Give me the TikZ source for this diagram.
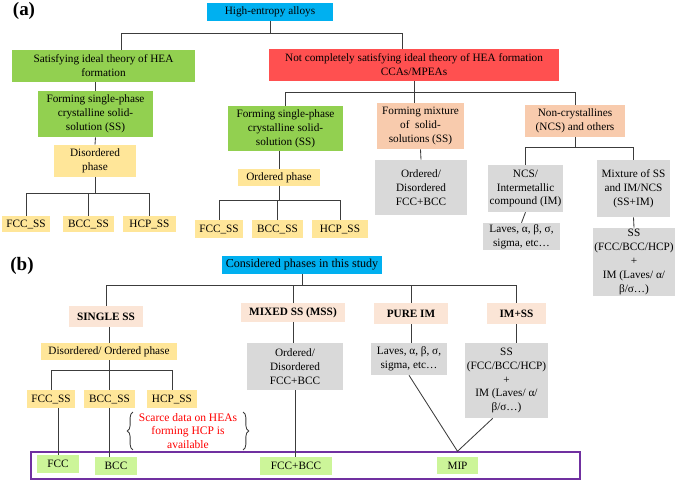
\documentclass[tikz,border=0pt]{standalone}
\usepackage{fontspec}
\setmainfont{Liberation Serif}
\usepackage{xcolor}
\usetikzlibrary{positioning, decorations.pathreplacing}

\definecolor{heablue}{RGB}{0,176,240}
\definecolor{heagreen}{RGB}{146,208,80}
\definecolor{heared}{RGB}{255,80,80}
\definecolor{heayellow}{RGB}{255,230,153}
\definecolor{heapeach}{RGB}{248,203,173}
\definecolor{heagray}{RGB}{217,217,217}
\definecolor{heapink}{RGB}{251,229,214}
\definecolor{healime}{RGB}{204,245,153}
\definecolor{heapurple}{RGB}{112,48,160}
\definecolor{linegray}{RGB}{60,60,60}

\begin{document}
\begin{tikzpicture}[
    x=0.025cm, y=-0.025cm,
    box/.style={rectangle, inner sep=1pt, align=center, font=\fontsize{8}{9.9}\selectfont},
    cyanbox/.style={box, fill=heablue},
    greenbox/.style={box, fill=heagreen},
    redbox/.style={box, fill=heared},
    yellowbox/.style={box, fill=heayellow},
    peachbox/.style={box, fill=heapeach},
    graybox/.style={box, fill=heagray},
    pinkbox/.style={box, fill=heapink, font=\fontsize{8}{9.9}\selectfont\bfseries},
    limebox/.style={box, fill=healime},
    link/.style={draw=linegray, line width=0.6pt}
]
\useasboundingbox (0,0) rectangle (685,480);

% (a) classification
\node[font=\fontsize{13.5}{15}\selectfont\bfseries] (lbla) at (24,11) {(a)};
\node[cyanbox, minimum width=3.15cm, minimum height=0.45cm] (hea) at (270,12) {High-entropy alloys};

\node[greenbox, minimum width=4.575cm, minimum height=0.8cm] (sat) at (103.5,66) {Satisfying ideal theory of HEA\\formation};
\node[redbox, minimum width=7.25cm, minimum height=0.8cm] (notsat) at (414,65) {Not completely satisfying ideal theory of HEA formation\\CCAs/MPEAs};

\node[greenbox, minimum width=2.875cm, minimum height=1.15cm] (fss1) at (95.5,114) {Forming single-phase\\crystalline solid-\\solution (SS)};
\node[yellowbox, minimum width=2.05cm, minimum height=0.8cm] (dis) at (95,161) {Disordered\\phase};
\node[yellowbox, minimum width=1.2cm, minimum height=0.4cm] (fcc1) at (26,224) {FCC\_SS};
\node[yellowbox, minimum width=1.275cm, minimum height=0.4cm] (bcc1) at (88.5,224) {BCC\_SS};
\node[yellowbox, minimum width=1.325cm, minimum height=0.4cm] (hcp1) at (149.5,224) {HCP\_SS};

\node[greenbox, minimum width=2.875cm, minimum height=1.125cm] (fss2) at (285.5,128.5) {Forming single-phase\\crystalline solid-\\solution (SS)};
\node[yellowbox, minimum width=2.05cm, minimum height=0.425cm] (ord) at (279,177.5) {Ordered phase};
\node[yellowbox, minimum width=1.2cm, minimum height=0.45cm] (fcc2) at (219,229) {FCC\_SS};
\node[yellowbox, minimum width=1.275cm, minimum height=0.45cm] (bcc2) at (277.5,229) {BCC\_SS};
\node[yellowbox, minimum width=1.4cm, minimum height=0.45cm] (hcp2) at (340,229) {HCP\_SS};

\node[peachbox, minimum width=2.175cm, minimum height=1.15cm] (mix) at (420.5,126) {Forming mixture\\of~ solid-\\solutions (SS)};
\node[graybox, minimum width=2.3cm, minimum height=1.375cm] (odfb) at (421,187.5) {Ordered/\\Disordered\\FCC+BCC};

\node[peachbox, minimum width=2.5cm, minimum height=0.8cm] (ncs) at (575,121) {Non-crystallines\\(NCS) and others};
\node[graybox, minimum width=1.875cm, minimum height=1.175cm] (ncsim) at (525.5,188.5) {NCS/\\Intermetallic\\compound (IM)};
\node[graybox, minimum width=1.925cm, minimum height=0.675cm] (laves1) at (521.5,236.5) {Laves, α, β, σ,\\sigma, etc…};
\node[graybox, minimum width=1.825cm, minimum height=1.425cm] (mixss) at (633.5,188.5) {Mixture of SS\\and IM/NCS\\(SS+IM)};
\node[graybox, minimum width=1.95cm, minimum height=1.65cm] (ssim1) at (634,262) {SS\\(FCC/BCC/HCP)\\+\\IM (Laves/ α/\\β/σ…)};

\draw[link] (hea.south) -- ++(0,12) -| ([xshift=0.44cm]sat.north);
\draw[link] (hea.south) -- ++(0,12) -| ([xshift=-0.28cm]notsat.north);
\draw[link] (fss1.north) -- (fss1.north |- sat.south);
\draw[link] (fss1.south) -- (dis.north);
\draw[link] (dis.south) -- ++(0,16) -| (fcc1.north);
\draw[link] (dis.south) -- ++(0,16) -| (bcc1.north);
\draw[link] (dis.south) -- ++(0,16) -| (hcp1.north);

\draw[link] (notsat.south) -- ++(0,11) -| (fss2.north);
\draw[link] (notsat.south) -- ++(0,11) -| (ncs.north);
\draw[link] (notsat.south) -- (notsat.south |- mix.north);
\draw[link] (ord.north) -- (ord.north |- fss2.south);
\draw[link] (ord.south) -- ++(0,14) -| (fcc2.north);
\draw[link] (ord.south) -- ++(0,14) -| (bcc2.north);
\draw[link] (ord.south) -- ++(0,14) -| (hcp2.north);
\draw[link] (mix.south) -- (odfb.north);
\draw[link] (ncs.south) -- ++(0,10) -| (ncsim.north);
\draw[link] (ncs.south) -- ++(0,10) -| (mixss.north);
\draw[link] (ncsim.south) -- (laves1.north);
\draw[link] (mixss.south) -- (ssim1.north);

% (b) phases in this study
\node[font=\fontsize{13.5}{15}\selectfont\bfseries] (lblb) at (22,266) {(b)};
\node[cyanbox, minimum width=4cm, minimum height=0.45cm, font=\fontsize{8.6}{10}\selectfont] (cons) at (302,265) {Considered phases in this study};

\node[pinkbox, minimum width=1.85cm, minimum height=0.525cm] (single) at (106,316.5) {SINGLE SS};
\node[pinkbox, minimum width=2.6cm, minimum height=0.475cm] (mixed) at (293,312.5) {MIXED SS (MSS)};
\node[pinkbox, minimum width=1.85cm, minimum height=0.525cm] (pure) at (411,313.5) {PURE IM};
\node[pinkbox, minimum width=1.475cm, minimum height=0.525cm] (imss) at (516.5,313.5) {IM+SS};

\node[yellowbox, minimum width=3.4cm, minimum height=0.425cm] (disord) at (109,351.5) {Disordered/ Ordered phase};
\node[yellowbox, minimum width=1.2cm, minimum height=0.45cm] (fcc3) at (51,399) {FCC\_SS};
\node[yellowbox, minimum width=1.275cm, minimum height=0.45cm] (bcc3) at (109.5,399) {BCC\_SS};
\node[yellowbox, minimum width=1.25cm, minimum height=0.45cm] (hcp3) at (172,399) {HCP\_SS};

\node[graybox, minimum width=2.4cm, minimum height=1.175cm] (odfb2) at (295,366.5) {Ordered/\\Disordered\\FCC+BCC};
\node[graybox, minimum width=1.9cm, minimum height=0.8cm] (laves2) at (409,359) {Laves, α, β, σ,\\sigma, etc…};
\node[graybox, minimum width=1.825cm, minimum height=1.875cm] (ssim2) at (506.5,380.5) {SS\\(FCC/BCC/HCP)\\+\\IM (Laves/ α/\\β/σ…)};

\node[text=red, align=center, inner sep=1pt, font=\fontsize{8.2}{9.4}\selectfont] (note) at (188,431) {Scarce data on HEAs\\forming HCP is\\available};
\draw[linegray, line width=0.6pt, decorate, decoration={brace, amplitude=4pt}]
    ([xshift=-3pt]note.south west) -- ([xshift=-3pt]note.north west);
\draw[linegray, line width=0.6pt, decorate, decoration={brace, amplitude=4pt}]
    ([xshift=3pt]note.north east) -- ([xshift=3pt]note.south east);

\node[draw=heapurple, line width=1pt, minimum width=13.725cm, minimum height=0.675cm] (mipbox) at (305.5,465.5) {};
\node[limebox, minimum width=1.05cm, minimum height=0.45cm] (fcc) at (58,464) {FCC};
\node[limebox, minimum width=1.05cm, minimum height=0.45cm] (bcc) at (116,466) {BCC};
\node[limebox, minimum width=1.8cm, minimum height=0.45cm] (fccbcc) at (296,466) {FCC+BCC};
\node[limebox, minimum width=1.025cm, minimum height=0.425cm] (mip) at (457.5,465.5) {MIP};
\coordinate (vee) at (mip.north |- mipbox.north);

\draw[link] (cons.south) -- ++(0,11) -| (single.north);
\draw[link] (cons.south) -- ++(0,11) -| (mixed.north);
\draw[link] (cons.south) -- ++(0,11) -| (pure.north);
\draw[link] (cons.south) -- ++(0,11) -| (imss.north);
\draw[link] (disord.north) -- (disord.north |- single.south);
\draw[link] (disord.south) -- ++(0,10) -| (fcc3.north);
\draw[link] (disord.south) -- ++(0,10) -| (bcc3.north);
\draw[link] (disord.south) -- ++(0,10) -| (hcp3.north);
\draw[link] (mixed.south) -- (mixed.south |- odfb2.north);
\draw[link] (pure.south) -- (pure.south |- laves2.north);
\draw[link] (imss.south) -- (imss.south |- ssim2.north);
\draw[link] (fcc.north) -- (fcc.north |- fcc3.south);
\draw[link] (bcc3.south) -- (bcc3.south |- bcc.north);
\draw[link] (odfb2.south) -- (odfb2.south |- fccbcc.north);
\draw[link] (laves2.south) -- (vee) -- (ssim2.-110);

\end{tikzpicture}
\end{document}
